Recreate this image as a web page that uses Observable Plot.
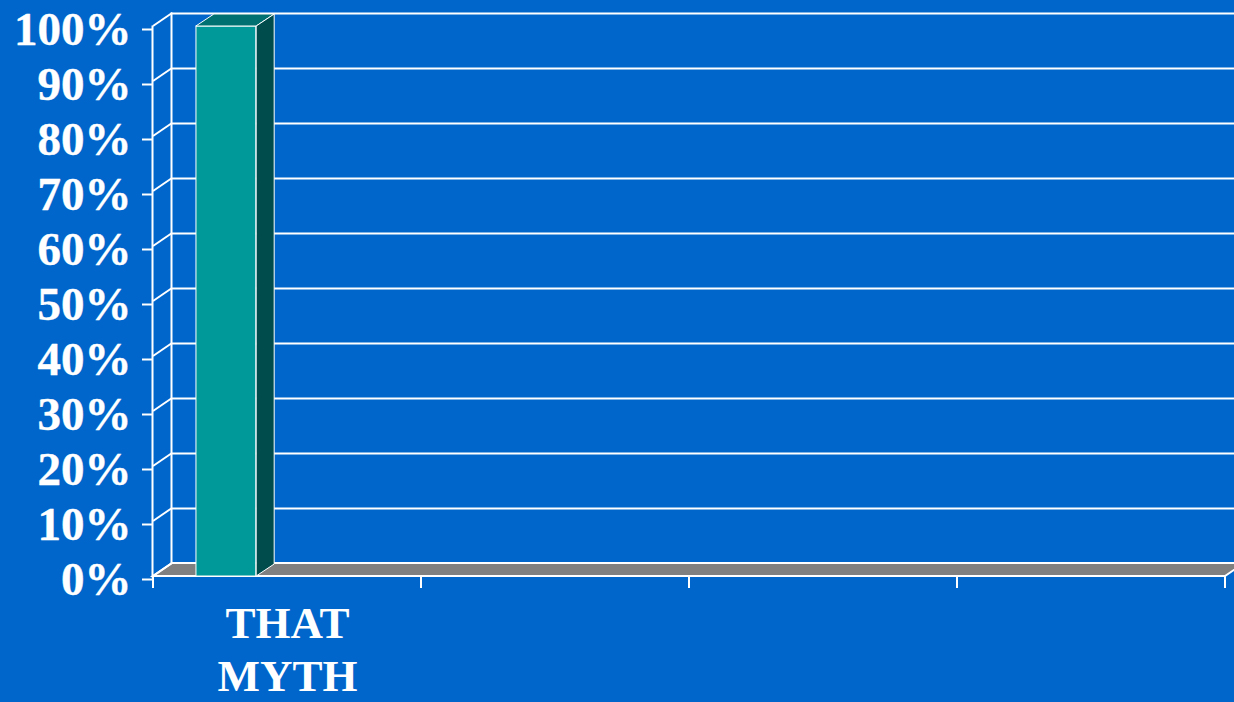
<!DOCTYPE html>
<html>
<head>
<meta charset="utf-8">
<script src="https://cdn.jsdelivr.net/npm/d3@7"></script>
<script src="https://cdn.jsdelivr.net/npm/@observablehq/plot@0.6"></script>
<style>
  html, body { margin: 0; padding: 0; background: #0066CC; overflow: hidden; }
  #chart { width: 1234px; height: 702px; }
</style>
</head>
<body>
<div id="chart"></div>
<script>
// ---- data ----
const categories = ["THAT MYTH", "", "", ""];
const values = [100, null, null, null];
const yTicks = [0, 10, 20, 30, 40, 50, 60, 70, 80, 90, 100];

// ---- style ----
const BG = "#0066CC";
const WALL_DX = 19, WALL_DY = -13;   // 3D depth of back wall
const BAR_DX = 18, BAR_DY = -12;     // 3D depth of bars
const FONT = "'Liberation Serif', 'Times New Roman', serif";

const data = categories
  .map((label, i) => ({slot: i, label, value: values[i]}))
  .filter(d => d.value != null);
const slots = d3.range(categories.length);

// floor, diagonal connectors, x tick marks
function floorMark(index, scales) {
  const {x, y} = scales;
  const bw = x.bandwidth();
  const x0 = x(slots[0]), x1 = x(slots[slots.length - 1]) + bw, y0 = y(0);
  const g = d3.create("svg:g");
  g.append("path")
    .attr("d", `M${x0},${y0}L${x1},${y0}L${x1 + WALL_DX},${y0 + WALL_DY}L${x0 + WALL_DX},${y0 + WALL_DY}Z`)
    .attr("fill", "#808080").attr("stroke", "white").attr("stroke-width", 2);
  for (const t of yTicks) {
    g.append("line")
      .attr("x1", x0).attr("y1", y(t)).attr("x2", x0 + WALL_DX).attr("y2", y(t) + WALL_DY)
      .attr("stroke", "white").attr("stroke-width", 2);
  }
  for (let i = 0; i <= slots.length; i++) {
    const xx = x0 + i * bw;
    g.append("line")
      .attr("x1", xx).attr("y1", y0).attr("x2", xx).attr("y2", y0 + 12)
      .attr("stroke", "white").attr("stroke-width", 2);
  }
  return g.node();
}

// bar top & side faces
function barDepthMark(index, scales) {
  const {x, y} = scales;
  const bw = x.bandwidth();
  const g = d3.create("svg:g");
  for (const d of data) {
    const left = x(d.slot) + bw * 0.16;
    const right = x(d.slot) + bw * 0.385;
    const top = y(d.value), bottom = y(0);
    g.append("path")
      .attr("d", `M${left},${top}L${right},${top}L${right + BAR_DX},${top + BAR_DY}L${left + BAR_DX},${top + BAR_DY}Z`)
      .attr("fill", "#007070").attr("stroke", "white").attr("stroke-width", 1);
    g.append("path")
      .attr("d", `M${right},${top}L${right + BAR_DX},${top + BAR_DY}L${right + BAR_DX},${bottom + BAR_DY}L${right},${bottom}Z`)
      .attr("fill", "#004C4C").attr("stroke", "white").attr("stroke-width", 1);
  }
  return g.node();
}

const chart = Plot.plot({
  width: 1234,
  height: 702,
  marginTop: 26,
  marginBottom: 126,
  marginLeft: 152,
  marginRight: 8,
  style: {background: BG, color: "white", fontFamily: FONT, overflow: "visible"},
  x: {type: "band", domain: slots, padding: 0, axis: null},
  y: {domain: [0, 100], axis: null},
  marks: [
    Plot.ruleY(yTicks, {dx: WALL_DX, dy: WALL_DY, stroke: "white", strokeWidth: 2}),
    Plot.frame({anchor: "left", dx: WALL_DX, dy: WALL_DY, stroke: "white", strokeWidth: 2}),
    floorMark,
    Plot.frame({anchor: "left", stroke: "white", strokeWidth: 2}),
    Plot.barY(data, {
      x: "slot", y: "value",
      insetLeft: 268.5 * 0.16, insetRight: 268.5 * 0.615,
      fill: "#009999", stroke: "white", strokeWidth: 1
    }),
    barDepthMark,
    Plot.axisY({
      ticks: yTicks, tickFormat: d => d + "%", tickSize: 10, tickPadding: 11,
      fontSize: 47, fontWeight: "bold", fill: "white", stroke: "white", strokeWidth: 2,
      textStroke: "white", textStrokeWidth: 0.4, dy: 3, label: null
    }),
    Plot.axisX({
      tickSize: 0, tickPadding: 24, tickFormat: i => categories[i].replace(" ", "\n"),
      fontSize: 45, fontWeight: "bold", fill: "white", lineHeight: 1.17, label: null
    })
  ]
});
document.getElementById("chart").append(chart);
</script>
</body>
</html>
